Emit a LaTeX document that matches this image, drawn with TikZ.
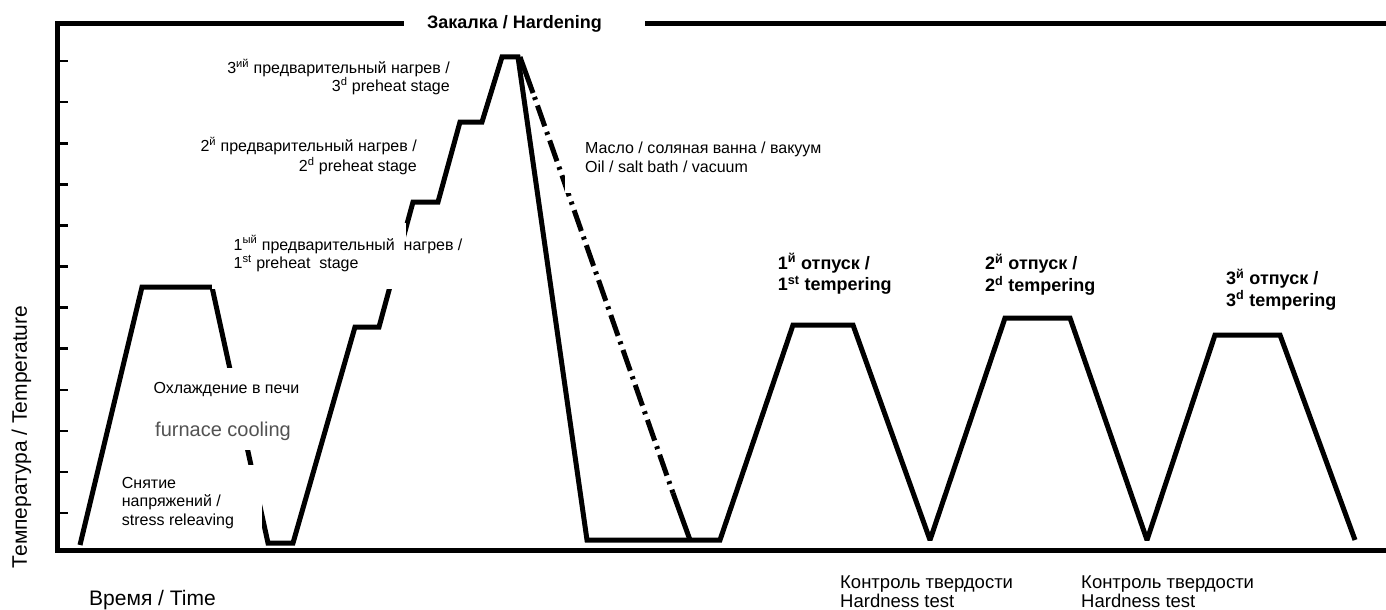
\documentclass[tikz,border=0pt]{standalone}
\usepackage{fontspec}
\setmainfont{Liberation Sans}
\begin{document}
\begin{tikzpicture}[x=1pt,y=-1pt,
  curve/.style={line width=5pt, line join=miter, miter limit=2},
  axisline/.style={line width=5.5pt, line join=miter},
  tickmark/.style={line width=2.6pt},
  dashdotline/.style={line width=5pt, dash pattern=on 3pt off 6pt on 22pt off 6pt},
  mask/.style={fill=white},
  lbl/.style={inner sep=0pt, font=\fontsize{16}{19}\selectfont},
  biglbl/.style={inner sep=0pt, font=\fontsize{18.5}{22}\selectfont},
  axlbl/.style={inner sep=0pt, font=\fontsize{21}{25}\selectfont},
  blbl/.style={inner sep=0pt, font=\fontsize{18}{21}\selectfont\bfseries},
  graylbl/.style={inner sep=0pt, text=black!68, font=\fontsize{20}{24}\selectfont}]
\useasboundingbox (0,0) rectangle (1386,610);

% axes frame
\coordinate (tr) at (1386,23.5);
\coordinate (tl) at (57.5,23.5);
\coordinate (bl) at (57.5,550.5);
\coordinate (br) at (1386,550.5);
\draw[axisline] (tr) -- (tl) -- (bl) -- (br);
\foreach \k in {0,...,11}
  \draw[tickmark] (59,{61+41.1*\k}) -- (67.5,{61+41.1*\k});

% main temperature curve
\draw[curve] (80,545) -- (142,287) -- (212,287) -- (268,543) -- (293,543)
  -- (355,327) -- (379,327) -- (413,202) -- (438,202) -- (460,122) -- (482,122)
  -- (502,57) -- (518,57) -- (587,540) -- (720,540)
  -- (793,325) -- (853,325) -- (930,540)
  -- (1005,318) -- (1070,318) -- (1147,540)
  -- (1215,335) -- (1280,335) -- (1355,540);

% dash-dot quench line
\coordinate (q0) at (520,57);
\coordinate (q1) at (533,93);
\coordinate (q2) at (534.5,97);
\coordinate (q3) at (673,493);
\coordinate (q4) at (690,540);
\draw[line width=5pt] (q0) -- (q1);
\draw[dashdotline] (q2) -- (q3);
\draw[line width=5pt] (q3) -- (q4);

% white label backgrounds hiding parts of the lines
\fill[mask] (404,8) rectangle (645,38);
\fill[mask] (148,368) rectangle (305,450);
\fill[mask] (102,465) rectangle (262,546);
\fill[mask] (212,223) rectangle (406,288.5);
\fill[mask] (565,128) rectangle (825,193);

% labels
\node[blbl, anchor=base] (title) at (514.5,28.5) {Закалка / Hardening};

\node[lbl, anchor=base east] (p3a) at (450,73.3) {3\textsuperscript{ий} предварительный нагрев /};
\node[lbl, anchor=base east] (p3b) at (450,91.7) {3\textsuperscript{d} preheat stage};
\node[lbl, anchor=base east] (p2a) at (417,151.7) {2\textsuperscript{й} предварительный нагрев /};
\node[lbl, anchor=base east] (p2b) at (417,171.7) {2\textsuperscript{d} preheat stage};
\node[lbl, anchor=base west] (p1a) at (233.5,250) {1\textsuperscript{ый} предварительный\ \ нагрев /};
\node[lbl, anchor=base west] (p1b) at (233.5,268.3) {1\textsuperscript{st} preheat\ \ stage};

\node[lbl, anchor=base west] (oila) at (585,153.3) {Масло / соляная ванна / вакуум};
\node[lbl, anchor=base west] (oilb) at (585,172.3) {Oil / salt bath / vacuum};

\node[blbl, anchor=base west] (t1a) at (777.7,269) {1\textsuperscript{й} отпуск /};
\node[blbl, anchor=base west] (t1b) at (777.7,290.5) {1\textsuperscript{st} tempering};
\node[blbl, anchor=base west] (t2a) at (985,269.5) {2\textsuperscript{й} отпуск /};
\node[blbl, anchor=base west] (t2b) at (985,291.5) {2\textsuperscript{d} tempering};
\node[blbl, anchor=base west] (t3a) at (1226,284.5) {3\textsuperscript{й} отпуск /};
\node[blbl, anchor=base west] (t3b) at (1226,306) {3\textsuperscript{d} tempering};

\node[lbl, anchor=base west] (fca) at (153.3,393.3) {Охлаждение в печи};
\node[graylbl, anchor=base west] (fcb) at (155,436.7) {furnace cooling};

\node[lbl, anchor=base west] (sra) at (121.7,488.3) {Снятие};
\node[lbl, anchor=base west] (srb) at (121.7,506.7) {напряжений /};
\node[lbl, anchor=base west] (src) at (121.7,525) {stress releaving};

\node[biglbl, anchor=base west] (h1a) at (840,588) {Контроль твердости};
\node[biglbl, anchor=base west] (h1b) at (840,607) {Hardness test};
\node[biglbl, anchor=base west] (h2a) at (1081,588) {Контроль твердости};
\node[biglbl, anchor=base west] (h2b) at (1081,607) {Hardness test};

\node[axlbl, anchor=base west] (time) at (89,605) {Время / Time};
\node[axlbl, anchor=base, rotate=90] (temp) at (27,437) {Температура / Temperature};
\end{tikzpicture}
\end{document}
